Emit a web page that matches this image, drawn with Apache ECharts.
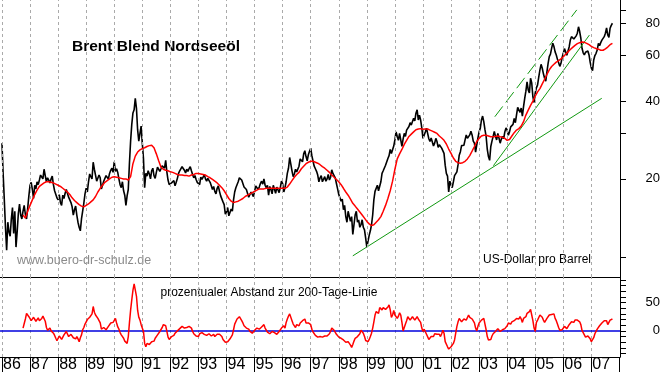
<!DOCTYPE html>
<html><head><meta charset="utf-8">
<script src="https://cdn.jsdelivr.net/npm/echarts@6/dist/echarts.min.js"></script>
<style>html,body{margin:0;padding:0;background:#fff}#c{width:663px;height:373px}</style>
</head><body><div id="c"></div>
<script>
// monthly samples (start of month), first sample = January 1986
const startYear = 1986;
const price = [
27.5,16.6,10.6,12.5,14.0,12.3,10.9,14.7,14.5,15.0,14.6,15.4,
18.9,18.2,18.9,19.5,19.8,20.4,21.8,19.5,19.8,20.0,19.0,17.8,
16.6,16.2,17.3,17.6,17.9,16.6,15.6,15.2,14.5,13.0,14.0,16.1,
18.4,19.5,20.4,23.2,20.7,19.8,20.2,18.9,19.8,20.3,21.0,22.0,
23.3,21.9,20.0,18.5,18.0,15.8,18.2,28.0,36.0,41.0,31.0,30.0,
27.5,18.5,20.5,20.9,21.5,20.6,21.2,21.8,21.9,22.5,23.6,19.8,
18.9,19.0,18.8,20.1,21.5,22.3,21.6,21.8,21.9,21.5,20.2,19.9,
19.4,20.3,20.3,20.0,20.1,19.4,18.2,17.9,18.4,17.9,17.4,15.9,
14.9,14.4,15.3,16.6,18.5,19.5,20.4,19.5,18.9,17.9,17.3,17.9,
17.9,18.7,18.6,19.6,20.0,18.5,17.3,18.2,18.9,17.6,18.3,18.5,
19.2,18.5,21.0,24.2,21.5,20.9,21.3,22.4,23.6,25.0,24.4,24.8,
26.3,23.4,21.9,20.7,20.2,19.5,20.4,20.0,19.8,21.7,20.8,19.2,
17.4,16.4,15.2,14.3,15.0,13.7,12.2,14.5,13.6,13.0,13.9,12.7,
10.9,12.1,13.3,16.6,17.6,18.0,19.5,21.5,22.6,24.0,26.0,25.5,
28.3,29.2,30.0,26.7,30.0,30.9,31.9,32.3,34.3,35.9,33.8,33.8,
28.7,30.4,30.0,27.9,28.3,27.5,27.9,27.1,26.3,25.1,21.0,17.8,
19.0,19.5,20.7,22.7,25.5,26.7,28.3,28.7,29.6,29.6,27.5,27.1,
30.4,33.8,33.3,29.2,24.4,26.7,29.2,29.2,30.0,27.5,29.2,30.4,
30.9,30.4,32.3,34.3,35.4,37.6,37.6,38.1,43.7,44.2,49.0,41.5,
43.0,46.2,52.8,53.6,49.0,51.9,59.4,64.0,65.0,60.3,57.7,56.0,
61.2,62.1,61.2,68.9,72.1,68.9,73.2,74.3,64.0,60.3,61.2,60.3,
53.6,57.7,61.2,66.9,67.3,70.0,73.2,72.1,76.5,80.0];
// mid-month readings (between consecutive monthly samples)
const priceMid = [
21.0,13.0,13.6,12.0,15.5,15.0,12.5,16.0,14.0,15.8,14.0,17.2,
19.4,16.8,18.3,19.0,20.7,20.0,20.6,20.2,19.3,20.5,18.0,16.9,
17.4,15.8,16.8,18.2,17.0,16.2,14.5,15.7,13.6,12.6,15.0,17.5,
17.8,20.9,20.0,21.8,19.6,20.7,18.3,19.6,20.6,20.0,21.6,21.2,
21.4,21.2,19.0,19.5,17.3,17.2,23.0,32.5,37.0,37.5,28.0,32.0,
24.0,21.0,21.5,20.0,22.0,20.1,22.2,21.4,22.5,22.0,21.3,19.0,
19.3,19.7,19.4,21.0,21.7,22.6,21.1,21.4,22.3,20.8,20.6,19.4,
19.0,19.9,20.8,19.6,20.2,18.8,18.7,17.5,18.8,17.2,16.3,14.6,
15.5,14.6,15.0,17.8,18.4,20.2,19.8,18.6,18.2,17.0,17.8,17.1,
18.8,18.2,19.2,19.1,18.9,18.9,18.7,17.5,19.2,18.6,17.7,19.6,
17.8,19.5,22.0,22.8,20.4,21.8,21.0,23.9,23.3,25.7,23.5,25.6,
24.6,22.4,21.4,19.5,20.6,19.2,19.6,20.8,20.3,21.0,20.2,18.3,
17.6,16.7,15.8,13.6,14.8,14.3,13.3,15.0,13.9,13.3,13.0,11.8,
10.8,12.6,14.5,17.9,18.9,18.1,21.0,21.4,22.7,24.6,25.1,26.8,
30.4,28.2,30.5,28.5,29.2,30.5,33.0,31.8,33.5,37.0,35.3,31.5,
29.2,31.4,28.6,28.8,26.8,28.7,26.5,27.3,26.6,22.6,20.5,19.6,
18.5,20.6,21.3,24.7,26.9,27.0,29.6,28.2,30.6,28.0,25.4,28.8,
31.4,35.0,31.0,26.0,23.6,28.0,30.5,28.3,28.8,28.5,28.6,31.5,
29.5,31.8,32.5,33.0,37.8,36.2,35.0,41.0,47.5,43.0,47.0,39.5,
45.0,49.5,55.5,51.0,47.8,56.0,60.8,67.0,62.0,58.0,54.5,59.0,
63.8,60.2,64.8,71.0,69.5,71.5,77.5,70.0,61.5,61.8,62.5,56.5,
52.5,60.0,63.0,65.5,68.8,71.0,76.8,70.5,78.5];
const ma200 = [
null,null,null,null,null,null,null,null,null,14.5,14.1,15.0,
15.8,16.6,17.4,18.1,18.7,19.0,19.3,19.5,19.5,19.4,19.3,19.1,
18.9,18.7,18.4,18.1,17.8,17.4,16.9,16.5,16.2,15.9,15.7,15.6,
15.8,16.0,16.3,16.6,17.1,17.8,18.4,18.9,19.4,19.7,20.0,20.3,
20.4,20.3,20.2,20.1,20.0,20.0,19.8,20.4,22.9,24.5,25.4,25.9,
26.2,26.4,26.7,26.9,27.0,26.4,25.0,23.5,22.2,21.8,21.6,21.5,
21.3,21.2,21.0,20.8,20.7,20.7,20.6,20.6,20.5,20.7,20.8,21.0,
21.0,20.9,20.8,20.7,20.4,20.2,19.9,19.6,19.3,18.9,18.5,18.0,
17.4,16.8,16.4,16.2,16.3,16.4,16.6,16.8,17.1,17.3,17.5,17.7,
17.9,18.1,18.3,18.3,18.3,18.4,18.4,18.4,18.4,18.4,18.4,18.4,
18.4,18.4,18.6,19.1,19.7,20.3,20.8,21.2,21.9,22.4,22.9,23.2,
23.4,23.4,23.2,23.0,22.7,22.3,22.0,21.6,21.2,20.7,20.3,19.9,
19.5,19.0,18.4,17.8,17.3,16.7,16.1,15.7,15.3,14.9,14.5,14.1,
13.7,13.4,13.2,13.3,13.6,13.9,14.3,15.0,15.8,16.8,18.0,19.6,
21.8,23.9,25.0,26.0,27.2,28.2,29.2,29.8,30.4,31.0,31.2,31.3,
31.1,31.2,31.2,30.9,30.6,30.3,30.0,29.3,28.8,28.2,27.3,26.1,
25.1,24.1,23.4,23.1,23.0,23.1,23.4,23.9,24.6,25.6,26.7,27.9,
28.7,29.3,29.5,29.5,29.3,29.1,29.1,29.2,29.3,29.1,29.0,28.7,
28.2,28.4,29.3,30.2,30.9,31.3,32.0,33.3,35.3,36.9,38.5,40.0,
41.8,43.4,44.7,46.6,48.6,50.7,52.8,54.4,55.5,56.6,57.3,58.2,
59.4,60.7,62.0,63.3,64.5,65.7,66.7,67.3,67.7,67.5,66.9,66.1,
65.1,64.4,63.9,63.5,62.9,62.9,63.7,64.7,66.1,66.9];
// percent distance to the 200-day line, monthly samples
const distance = [
null,null,null,null,null,null,null,null,null,5,21,28,
24,21,22,20,18,22,24,6,2,0,-4,-13,
-13,-12,-11,-7,-3,-12,-8,-11,-10,-19,-7,6,
16,22,26,43,28,22,14,2,4,5,10,11,
18,14,3,-7,-13,-21,-10,37,72,81,36,19,
11,-22,-22,-24,-19,-18,-11,-4,2,11,9,-11,
-13,-10,-4,0,4,8,5,6,8,5,-5,-9,
-10,-4,-4,-5,-7,-4,-7,-10,-6,-6,-10,-17,
-21,-19,-11,2,15,22,24,14,8,5,-1,-4,
1,5,3,7,11,2,-4,-2,2,-5,-4,2,
6,5,21,30,18,9,11,9,16,17,14,14,
11,-2,-8,-11,-10,-11,-9,-9,-5,5,1,-6,
-11,-13,-16,-20,-19,-25,-24,-13,-10,-5,3,-10,
-17,-15,-4,16,34,31,39,41,38,42,37,28,
28,22,32,15,2,18,26,22,22,22,21,15,
-1,1,-9,-15,-8,-5,-6,-6,-5,-4,-21,-32,
-28,-22,-13,16,22,18,22,22,24,21,14,0,
14,19,22,2,-16,-15,-5,-1,4,-1,2,4,
9,12,16,18,22,21,21,22,25,29,38,18,
-1,19,28,24,15,22,28,29,30,18,6,0,
5,6,6,14,15,19,19,16,1,-7,-13,-9,
-19,-12,-1,5,12,16,21,11,19,21];
// mid-month readings of the distance curve
const distanceMid = [
null,null,null,null,null,null,null,null,null,13,31,25,
18,24,17,23,15,26,17,1,5,-3,-8,-17,
-9,-15,-7,-1,-10,-6,-12,-14,-14,-12,2,12,
20,24,30,33,25,18,3,6,2,8,14,15,
22,7,-3,-10,-18,-22,15,55,83,61,24,11,
-1,-28,-25,-21,-22,-13,-7,-1,6,12,-1,-15,
-10,-8,-2,2,6,6,5,8,6,-1,-7,-11,
-5,-3,-6,-8,-5,-9,-6,-8,-3,-9,-15,-20,
-19,-14,-7,12,21,25,18,9,5,3,-3,-1,
3,2,6,9,5,-2,-5,-1,-3,-6,-1,5,
9,15,26,28,12,6,10,14,18,21,11,16,
3,-5,-11,-14,-9,-14,-6,-8,-1,2,-2,-9,
-14,-14,-19,-22,-22,-29,-18,-11,-11,1,-4,-17,
-19,-10,5,28,34,41,37,41,39,46,24,36,
30,26,28,0,12,25,19,25,19,25,18,5,
3,-6,-15,-10,-10,-5,-4,-10,1,-19,-28,-29,
-26,-16,8,22,16,21,19,28,21,22,5,8,
17,21,19,-10,-19,-9,-2,2,3,2,3,6,
14,12,18,17,21,25,15,22,31,34,28,5,
15,22,26,19,18,25,31,30,22,12,1,2,
8,4,11,16,15,21,16,11,-3,-11,-9,-14,
-18,-5,3,9,14,18,18,14,19];
const yearTicks = [1986,1987,1988,1989,1990,1991,1992,1993,1994,1995,1996,1997,1998,1999,2000,2001,2002,2003,2004,2005,2006,2007,2008];
const yearLabels = [1986,1987,1988,1989,1990,1991,1992,1993,1994,1995,1996,1997,1998,1999,2000,2001,2002,2003,2004,2005,2006,2007];
const gridYears = [1986,1987,1988,1989,1990,1991,1992,1993,1994,1995,1996,1997,1998,1999,2000,2001,2002,2003,2004,2005,2006,2007];
const priceTicks = [10,20,30,40,60,80,90];
const priceLabels = [20,40,60,80];
const distTicks = [-40,-30,-20,-10,0,10,20,30,40,50,60,70,80,90];
const distLabels = [0,50];
// trend lines: [year, price]
const supportLine = [[1998.50,10.08],[2007.37,41.0]];
const channelLow = [[2003.51,22.5],[2006.93,72.0]];
const channelHigh = [[2003.56,34.8],[2006.48,90.1]];

const toSeries = arr => arr.map((v,i)=>[startYear + i/12, v]).filter(p=>p[1]!=null);
const interleave = (main, mid) => {
  const out = [];
  main.forEach((v,i)=>{
    if (v != null) out.push([startYear + i/12, v]);
    if (i < mid.length && mid[i] != null) out.push([startYear + (i+0.5)/12, mid[i]]);
  });
  return out;
};
const FONT = "'Liberation Sans', Arial, sans-serif";
const gridMarks = gridYears.map(y=>({xAxis:y}));

const chart = echarts.init(document.getElementById('c'));
chart.setOption({
  animation:false,
  backgroundColor:'#fff',
  grid:[{left:0,right:43,top:0,height:277},{left:0,right:43,top:277,height:80}],
  xAxis:[
    {gridIndex:0,type:'value',min:1985.93,max:2008.02,
     axisLine:{show:true,onZero:false,lineStyle:{color:'#000',width:1}},
     axisTick:{show:false},axisLabel:{show:false},splitLine:{show:false}},
    {gridIndex:1,type:'value',min:1985.93,max:2008.02,
     axisLine:{show:true,onZero:false,lineStyle:{color:'#000',width:1}},
     axisTick:{show:true,customValues:yearTicks,length:15,inside:false,lineStyle:{color:'#000',width:1}},
     axisLabel:{show:true,customValues:yearLabels,formatter:v=>String(Math.round(v)).slice(2),
       align:'left',margin:0,padding:[0,0,0,1],fontSize:16,
       fontFamily:"'Liberation Sans Narrow','Arial Narrow','Liberation Sans',Arial,sans-serif",color:'#000'},
     splitLine:{show:false}}
  ],
  yAxis:[
    {gridIndex:0,type:'log',logBase:10,min:8.35,max:98.4,position:'right',
     axisLine:{show:true,onZero:false,lineStyle:{color:'#000',width:1}},
     axisTick:{show:true,customValues:priceTicks,length:6,lineStyle:{color:'#000'}},
     axisLabel:{show:true,customValues:priceLabels,align:'right',margin:40,fontSize:13,fontFamily:FONT,color:'#000'},
     splitLine:{show:false}},
    {gridIndex:1,type:'value',min:-46,max:95,position:'right',
     axisLine:{show:true,onZero:false,lineStyle:{color:'#000',width:1}},
     axisTick:{show:true,customValues:distTicks,length:6,lineStyle:{color:'#000'}},
     axisLabel:{show:true,customValues:distLabels,align:'right',margin:40,fontSize:13,fontFamily:FONT,color:'#000'},
     splitLine:{show:false}}
  ],
  series:[
    {type:'line',xAxisIndex:0,yAxisIndex:0,data:[],silent:true,
     markLine:{silent:true,symbol:'none',label:{show:false},animation:false,
       lineStyle:{color:'#aaaaaa',width:1,type:[3,3]},data:gridMarks}},
    {type:'line',xAxisIndex:1,yAxisIndex:1,data:[],silent:true,
     markLine:{silent:true,symbol:'none',label:{show:false},animation:false,
       lineStyle:{color:'#aaaaaa',width:1,type:[3,3]},data:gridMarks}},
    {type:'line',xAxisIndex:1,yAxisIndex:1,data:[],silent:true,
     markLine:{silent:true,symbol:'none',label:{show:false},animation:false,
       lineStyle:{color:'#0000dd',width:1.5,type:'solid'},data:[{yAxis:0}]}},
    {name:'Brent',type:'line',xAxisIndex:0,yAxisIndex:0,data:interleave(price,priceMid),symbol:'none',
     lineStyle:{color:'#000',width:1.6},z:3},
    {type:'line',xAxisIndex:0,yAxisIndex:0,data:supportLine,symbol:'none',lineStyle:{color:'#119911',width:1},z:4},
    {type:'line',xAxisIndex:0,yAxisIndex:0,data:channelLow,symbol:'none',lineStyle:{color:'#119911',width:1},z:4},
    {type:'line',xAxisIndex:0,yAxisIndex:0,data:channelHigh,symbol:'none',lineStyle:{color:'#119911',width:1,type:[13,5]},z:4},
    {name:'GD200',type:'line',xAxisIndex:0,yAxisIndex:0,data:toSeries(ma200),symbol:'none',
     lineStyle:{color:'#ff0000',width:1.5},z:5},
    {name:'Abstand',type:'line',xAxisIndex:1,yAxisIndex:1,data:interleave(distance,distanceMid),symbol:'none',
     lineStyle:{color:'#ff0000',width:1.5},z:5}
  ],
  graphic:[
    {type:'text',x:72,y:46.5,style:{text:'Brent Blend Nordseeöl',font:"bold 15.5px "+FONT,fill:'#000',verticalAlign:'middle',align:'left'}},
    {type:'text',x:17,y:261,style:{text:'www.buero-dr-schulz.de',font:"12.5px "+FONT,fill:'#8a8a8a',verticalAlign:'middle',align:'left'}},
    {type:'text',x:483,y:260,style:{text:'US-Dollar pro Barrel',font:"12px "+FONT,fill:'#000',verticalAlign:'middle',align:'left'}},
    {type:'text',x:160.5,y:292.5,style:{text:'prozentualer Abstand zur 200-Tage-Linie',font:"12px "+FONT,fill:'#000',verticalAlign:'middle',align:'left'}}
  ]
});
</script></body></html>
